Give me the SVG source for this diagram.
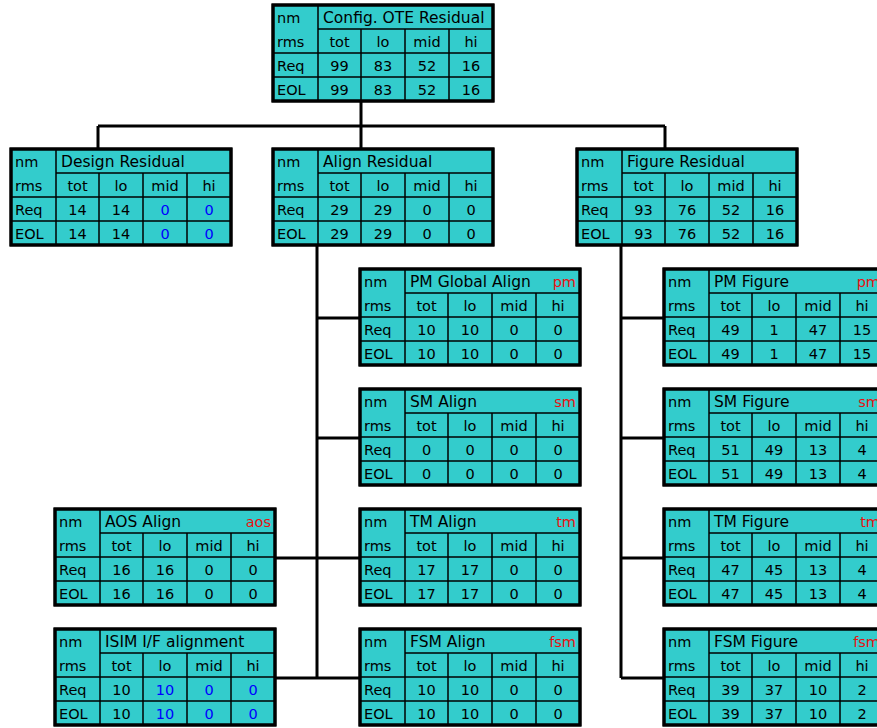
<svg xmlns="http://www.w3.org/2000/svg" xmlns:xlink="http://www.w3.org/1999/xlink" width="877" height="728" viewBox="0 0 877 728">
<style>
text{font-family:"DejaVu Sans","Liberation Sans",sans-serif;font-size:14.5px;fill:#000}
.t{font-size:15.5px}
.c{text-anchor:middle}
.tag{fill:#e81010;text-anchor:end}
.b{fill:#0000ff}
.box{fill:#33cccc;stroke:#000;stroke-width:3}
.in{stroke:#000;stroke-width:1.5;fill:none}
.conn{stroke:#000;stroke-width:3;fill:none}
</style>
<defs>
<g id="grid">
<rect class="box" x="0" y="0" width="220" height="96"/>
<path class="in" d="M45 0V96M88 24V96M132 24V96M176 24V96M45 24H220M0 48H220M0 72H220"/>
<rect x="0" y="0" width="220" height="96" fill="none" stroke="#000" stroke-width="3"/>
<text x="4" y="18">nm</text>
<text x="4" y="42">rms</text>
<text x="4" y="66">Req</text>
<text x="4" y="90">EOL</text>
<text class="c" x="66.5" y="42">tot</text>
<text class="c" x="110" y="42">lo</text>
<text class="c" x="154" y="42">mid</text>
<text class="c" x="198" y="42">hi</text>
</g>
</defs>
<g id="connectors">
<path class="conn" d="M361 102V126M98 126H665M98 126V149M361 126V149M665 126V149"/>
<path class="conn" d="M317 245V678M317 318H360M317 438H360M274 558H360M274 678H360"/>
<path class="conn" d="M621 245V678M621 318H664M621 438H664M621 558H664M621 678H664"/>
</g>
<g id="config" transform="translate(273,5)"><use xlink:href="#grid"/>
<text class="t" x="50" y="18">Config. OTE Residual</text>
<text class="c" x="66.5" y="66">99</text><text class="c" x="110" y="66">83</text><text class="c" x="154" y="66">52</text><text class="c" x="198" y="66">16</text>
<text class="c" x="66.5" y="90">99</text><text class="c" x="110" y="90">83</text><text class="c" x="154" y="90">52</text><text class="c" x="198" y="90">16</text>
</g>
<g id="design" transform="translate(11,149)"><use xlink:href="#grid"/>
<text class="t" x="50" y="18">Design Residual</text>
<text class="c" x="66.5" y="66">14</text><text class="c" x="110" y="66">14</text><text class="c b" x="154" y="66">0</text><text class="c b" x="198" y="66">0</text>
<text class="c" x="66.5" y="90">14</text><text class="c" x="110" y="90">14</text><text class="c b" x="154" y="90">0</text><text class="c b" x="198" y="90">0</text>
</g>
<g id="align" transform="translate(273,149)"><use xlink:href="#grid"/>
<text class="t" x="50" y="18">Align Residual</text>
<text class="c" x="66.5" y="66">29</text><text class="c" x="110" y="66">29</text><text class="c" x="154" y="66">0</text><text class="c" x="198" y="66">0</text>
<text class="c" x="66.5" y="90">29</text><text class="c" x="110" y="90">29</text><text class="c" x="154" y="90">0</text><text class="c" x="198" y="90">0</text>
</g>
<g id="figure" transform="translate(577,149)"><use xlink:href="#grid"/>
<text class="t" x="50" y="18">Figure Residual</text>
<text class="c" x="66.5" y="66">93</text><text class="c" x="110" y="66">76</text><text class="c" x="154" y="66">52</text><text class="c" x="198" y="66">16</text>
<text class="c" x="66.5" y="90">93</text><text class="c" x="110" y="90">76</text><text class="c" x="154" y="90">52</text><text class="c" x="198" y="90">16</text>
</g>
<g id="pm-align" transform="translate(360,269)"><use xlink:href="#grid"/>
<text class="t" x="50" y="18">PM Global Align</text><text class="tag" x="216" y="18">pm</text>
<text class="c" x="66.5" y="66">10</text><text class="c" x="110" y="66">10</text><text class="c" x="154" y="66">0</text><text class="c" x="198" y="66">0</text>
<text class="c" x="66.5" y="90">10</text><text class="c" x="110" y="90">10</text><text class="c" x="154" y="90">0</text><text class="c" x="198" y="90">0</text>
</g>
<g id="sm-align" transform="translate(360,389)"><use xlink:href="#grid"/>
<text class="t" x="50" y="18">SM Align</text><text class="tag" x="216" y="18">sm</text>
<text class="c" x="66.5" y="66">0</text><text class="c" x="110" y="66">0</text><text class="c" x="154" y="66">0</text><text class="c" x="198" y="66">0</text>
<text class="c" x="66.5" y="90">0</text><text class="c" x="110" y="90">0</text><text class="c" x="154" y="90">0</text><text class="c" x="198" y="90">0</text>
</g>
<g id="tm-align" transform="translate(360,509)"><use xlink:href="#grid"/>
<text class="t" x="50" y="18">TM Align</text><text class="tag" x="216" y="18">tm</text>
<text class="c" x="66.5" y="66">17</text><text class="c" x="110" y="66">17</text><text class="c" x="154" y="66">0</text><text class="c" x="198" y="66">0</text>
<text class="c" x="66.5" y="90">17</text><text class="c" x="110" y="90">17</text><text class="c" x="154" y="90">0</text><text class="c" x="198" y="90">0</text>
</g>
<g id="fsm-align" transform="translate(360,629)"><use xlink:href="#grid"/>
<text class="t" x="50" y="18">FSM Align</text><text class="tag" x="216" y="18">fsm</text>
<text class="c" x="66.5" y="66">10</text><text class="c" x="110" y="66">10</text><text class="c" x="154" y="66">0</text><text class="c" x="198" y="66">0</text>
<text class="c" x="66.5" y="90">10</text><text class="c" x="110" y="90">10</text><text class="c" x="154" y="90">0</text><text class="c" x="198" y="90">0</text>
</g>
<g id="pm-figure" transform="translate(664,269)"><use xlink:href="#grid"/>
<text class="t" x="50" y="18">PM Figure</text><text class="tag" x="216" y="18">pm</text>
<text class="c" x="66.5" y="66">49</text><text class="c" x="110" y="66">1</text><text class="c" x="154" y="66">47</text><text class="c" x="198" y="66">15</text>
<text class="c" x="66.5" y="90">49</text><text class="c" x="110" y="90">1</text><text class="c" x="154" y="90">47</text><text class="c" x="198" y="90">15</text>
</g>
<g id="sm-figure" transform="translate(664,389)"><use xlink:href="#grid"/>
<text class="t" x="50" y="18">SM Figure</text><text class="tag" x="216" y="18">sm</text>
<text class="c" x="66.5" y="66">51</text><text class="c" x="110" y="66">49</text><text class="c" x="154" y="66">13</text><text class="c" x="198" y="66">4</text>
<text class="c" x="66.5" y="90">51</text><text class="c" x="110" y="90">49</text><text class="c" x="154" y="90">13</text><text class="c" x="198" y="90">4</text>
</g>
<g id="tm-figure" transform="translate(664,509)"><use xlink:href="#grid"/>
<text class="t" x="50" y="18">TM Figure</text><text class="tag" x="216" y="18">tm</text>
<text class="c" x="66.5" y="66">47</text><text class="c" x="110" y="66">45</text><text class="c" x="154" y="66">13</text><text class="c" x="198" y="66">4</text>
<text class="c" x="66.5" y="90">47</text><text class="c" x="110" y="90">45</text><text class="c" x="154" y="90">13</text><text class="c" x="198" y="90">4</text>
</g>
<g id="fsm-figure" transform="translate(664,629)"><use xlink:href="#grid"/>
<text class="t" x="50" y="18">FSM Figure</text><text class="tag" x="216" y="18">fsm</text>
<text class="c" x="66.5" y="66">39</text><text class="c" x="110" y="66">37</text><text class="c" x="154" y="66">10</text><text class="c" x="198" y="66">2</text>
<text class="c" x="66.5" y="90">39</text><text class="c" x="110" y="90">37</text><text class="c" x="154" y="90">10</text><text class="c" x="198" y="90">2</text>
</g>
<g id="aos-align" transform="translate(55,509)"><use xlink:href="#grid"/>
<text class="t" x="50" y="18">AOS Align</text><text class="tag" x="216" y="18">aos</text>
<text class="c" x="66.5" y="66">16</text><text class="c" x="110" y="66">16</text><text class="c" x="154" y="66">0</text><text class="c" x="198" y="66">0</text>
<text class="c" x="66.5" y="90">16</text><text class="c" x="110" y="90">16</text><text class="c" x="154" y="90">0</text><text class="c" x="198" y="90">0</text>
</g>
<g id="isim" transform="translate(55,629)"><use xlink:href="#grid"/>
<text class="t" x="50" y="18">ISIM I/F alignment</text>
<text class="c" x="66.5" y="66">10</text><text class="c b" x="110" y="66">10</text><text class="c b" x="154" y="66">0</text><text class="c b" x="198" y="66">0</text>
<text class="c" x="66.5" y="90">10</text><text class="c b" x="110" y="90">10</text><text class="c b" x="154" y="90">0</text><text class="c b" x="198" y="90">0</text>
</g>
</svg>
